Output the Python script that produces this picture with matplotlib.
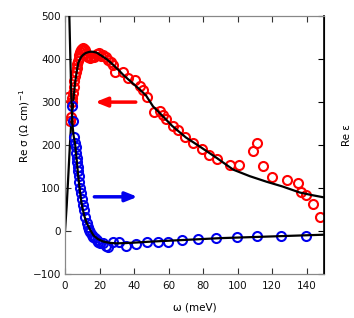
import numpy as np
import matplotlib.pyplot as plt

# Re sigma data (red circles), omega in meV
sig_w = [1.9, 2.9, 3.4, 3.9, 4.3, 4.7, 5.1, 5.5, 5.9, 6.3, 6.7, 7.1, 7.5, 7.9, 8.3, 8.8,
         9.3, 9.8, 10.3, 10.8, 11.4, 12.0, 12.7, 13.5, 14.3, 15.2, 16.1, 17.0, 18.3,
         19.5, 20.7, 22.2, 23.6, 25.0, 26.5, 28.0, 29.0, 33.6, 36.5, 40.5, 43.4, 45.0,
         47.3, 51.5, 55.0, 56.7, 58.5, 62.4, 65.6, 69.5, 74.3, 79.3, 83.5, 87.8, 95.5,
         101.0, 108.7, 111.4, 114.8, 119.7, 128.7, 135.0, 137.0, 139.5, 143.8, 148.0]
sig_v = [313, 255, 266, 300, 310, 322, 335, 348, 360, 370, 380, 388, 396, 403, 410, 416,
         420, 424, 426, 424, 420, 414, 408, 404, 403, 405, 408, 405, 412,
         414, 408, 410, 404, 398, 394, 387, 371, 370, 356, 352, 338, 327,
         311, 278, 280, 270, 261, 245, 235, 220, 206, 191, 177, 167, 154,
         154, 187, 206, 152, 126, 119, 113, 92, 84, 63, 33]

# Re epsilon data (blue circles)
eps_w = [3.9, 4.8, 5.2, 5.8, 6.2, 6.4, 6.8, 7.1, 7.4, 7.7, 8.0, 8.3, 8.7, 9.1, 9.6, 10.2,
         10.8, 11.6, 12.6, 13.3, 14.0, 14.7, 15.4, 16.4, 17.4, 18.3, 19.3, 20.3, 22.2,
         24.0, 25.0, 28.0, 31.0, 35.3, 41.0, 47.3, 54.0, 59.8, 68.0, 77.2, 87.4, 99.4,
         111.4, 124.9, 139.5]
eps_v = [291, 255, 220, 205, 195, 182, 170, 162, 150, 140, 128, 115, 100, 89, 75, 62,
         50, 34, 19, 10, 3, -2, -9, -13, -16, -20, -24, -28, -28,
         -34, -37, -24, -26, -34, -30, -26, -25, -26, -20, -18, -16, -14,
         -12, -12, -11]

# fit curves (black lines)
sfit_w = [0.0, 1.0, 2.0, 2.9, 3.5, 4.4, 5.0, 5.8, 6.8, 7.7, 8.7, 9.6, 10.6, 12.0, 13.5,
          14.5, 16.0, 18.3, 21.0, 24.0, 27.0, 30.9, 33.8, 38.0, 43.4, 47.0, 51.0, 56.0,
          62.0, 70.0, 78.0, 88.0, 97.5, 107.0, 116.8, 126.0, 136.0, 143.0, 149.6]
sfit_v = [0, 60, 135, 205, 245, 282, 310, 344, 371, 391, 400, 406, 410, 414, 416,
          417, 417, 415, 408, 400, 390, 375, 363, 348, 329, 315, 290, 270,
          245, 218, 197, 170, 143, 128, 115, 104, 90, 84, 79]
efit_w = [2.3, 2.5, 3.0, 3.5, 3.9, 4.5, 5.0, 5.8, 6.8, 7.7, 8.6, 9.6, 11.0, 12.6, 14.5,
          16.4, 19.0, 22.2, 26.0, 29.9, 35.0, 42.0, 50.0, 60.0, 75.0, 90.0, 105.0,
          120.0, 135.0, 150.0]
efit_v = [560, 503, 420, 340, 282, 240, 222, 205, 165, 127, 95, 65, 38, 19, 4,
          -9, -18, -24, -27, -28, -27.5, -26, -24, -22, -19, -16, -14,
          -12, -10, -8]

red = '#ff0000'
blue = '#0000ee'

fig = plt.figure(figsize=(3.54, 3.18), dpi=100)
ax = fig.add_axes([0.1836, 0.1374, 0.7314, 0.8123])
ax2 = ax.twinx()

ax.plot(sig_w, sig_v, 'o', ms=6.5, mfc='none', mec=red, mew=1.5, zorder=2)
ax2.plot(eps_w, eps_v, 'o', ms=6.5, mfc='none', mec=blue, mew=1.5, zorder=2)
ax.plot(sfit_w, sfit_v, '-', color='black', lw=1.6, zorder=3)
ax2.plot(efit_w, efit_v, '-', color='black', lw=1.6, zorder=3)

ax.annotate('', xy=(17.5, 300), xytext=(41, 300),
            arrowprops=dict(arrowstyle='-|>,head_length=0.7,head_width=0.28',
                            color=red, lw=2.5, shrinkA=0, shrinkB=0))
ax.annotate('', xy=(42, 80), xytext=(17, 80),
            arrowprops=dict(arrowstyle='-|>,head_length=0.7,head_width=0.28',
                            color=blue, lw=2.5, shrinkA=0, shrinkB=0))

ax.set_xlim(0, 150)
ax.set_ylim(-100, 500)
ax2.set_ylim(-100, 500)
ax.set_xticks([0, 20, 40, 60, 80, 100, 120, 140])
ax.set_yticks([-100, 0, 100, 200, 300, 400, 500])
ax2.set_yticks([-100, 0, 100, 200, 300, 400, 500])
ax2.set_yticklabels([])

ax.tick_params(direction='in', length=4, labelsize=7.5, top=True, colors='#333333',
               labelcolor='#111111', pad=3)
ax.tick_params(axis='x', pad=5)
ax2.tick_params(direction='in', length=4, colors='black')
for s in ['left', 'top', 'bottom']:
    ax.spines[s].set_color('#888888')
    ax2.spines[s].set_color('#888888')
ax2.spines['right'].set_color('black')
ax2.spines['right'].set_linewidth(1.2)

ax.set_xlabel('ω (meV)', fontsize=7.5)
ax.set_ylabel('Re σ (Ω cm)$^{-1}$', fontsize=7.5)
ax2.set_ylabel('Re ε', fontsize=7.5)
ax.xaxis.set_label_coords(0.5, -0.111)
ax.yaxis.set_label_coords(-0.127, 0.574)
ax2.yaxis.set_label_coords(1.069, 0.539)

fig.savefig('out.png', dpi=100)
